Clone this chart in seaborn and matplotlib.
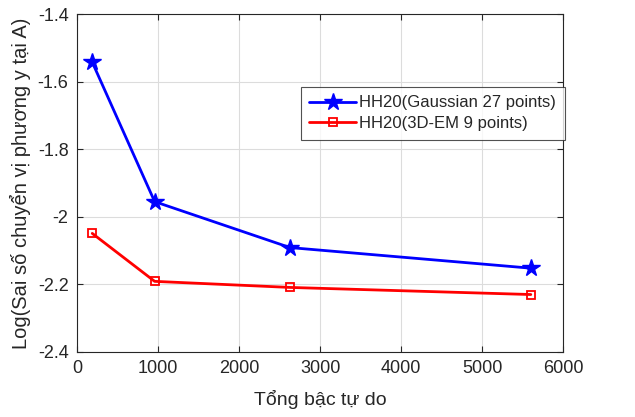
import matplotlib
matplotlib.use("Agg")
import matplotlib.pyplot as plt
import pandas as pd
import seaborn as sns

DOF = [190, 960, 2630, 5600]
GAUSS_27 = [-1.542, -1.955, -2.091, -2.152]
EM_9 = [-2.049, -2.191, -2.209, -2.230]
SERIES_NAMES = ["HH20(Gaussian 27 points)", "HH20(3D-EM 9 points)"]
X_TICKS = [0, 1000, 2000, 3000, 4000, 5000, 6000]
Y_TICKS = [-2.4, -2.2, -2.0, -1.8, -1.6, -1.4]
Y_TICK_LABELS = ["-2.4", "-2.2", "-2", "-1.8", "-1.6", "-1.4"]


def main() -> None:
    sns.set_theme(style="whitegrid")
    plt.rcParams["font.family"] = ["Liberation Sans", "DejaVu Sans"]

    gauss = pd.DataFrame({"dof": DOF, "value": GAUSS_27})
    em = pd.DataFrame({"dof": DOF, "value": EM_9})

    fig = plt.figure(figsize=(6.35, 4.17), dpi=100)
    ax = fig.add_axes([0.121, 0.156, 0.766, 0.810])

    sns.lineplot(
        data=gauss, x="dof", y="value", ax=ax,
        label=SERIES_NAMES[0], color="#0000ff", linewidth=2.0,
        marker="*", markersize=13, markerfacecolor="#0000ff",
        markeredgecolor="#0000ff", markeredgewidth=1.0,
    )
    sns.lineplot(
        data=em, x="dof", y="value", ax=ax,
        label=SERIES_NAMES[1], color="#ff0000", linewidth=2.0,
        marker="s", markersize=6, markerfacecolor="none",
        markeredgecolor="#ff0000", markeredgewidth=1.3,
    )

    ax.set_xlim(0, 6000)
    ax.set_ylim(-2.4, -1.4)
    ax.set_xticks(X_TICKS)
    ax.set_yticks(Y_TICKS)
    ax.set_yticklabels(Y_TICK_LABELS)
    ax.tick_params(direction="in", length=4, labelsize=13, colors="#262626",
                   top=True, right=True, bottom=True, left=True, width=0.8,
                   pad=6)
    ax.set_facecolor("white")
    ax.grid(True, color="#dcdcdc", linewidth=0.8)
    for spine in ax.spines.values():
        spine.set_color("#262626")
        spine.set_linewidth(0.8)

    ax.set_xlabel("Tổng bậc tự do", fontsize=14, color="#262626", labelpad=9)
    ax.set_ylabel("Log(Sai số chuyển vị phương y tại A)", fontsize=14.5,
                  color="#262626")
    ax.yaxis.set_label_coords(-0.095, 0.5)

    leg = ax.legend(
        loc="upper left",
        bbox_to_anchor=(0.461, 0.784),
        fontsize=12,
        frameon=True,
        fancybox=False,
        edgecolor="#262626",
        handlelength=2.8,
        borderpad=0.5,
        labelspacing=0.35,
        handletextpad=0.2,
        borderaxespad=0.0,
    )
    leg.get_frame().set_linewidth(0.8)

    fig.savefig("out.png", dpi=100, facecolor="white")
    plt.close(fig)


if __name__ == "__main__":
    main()
